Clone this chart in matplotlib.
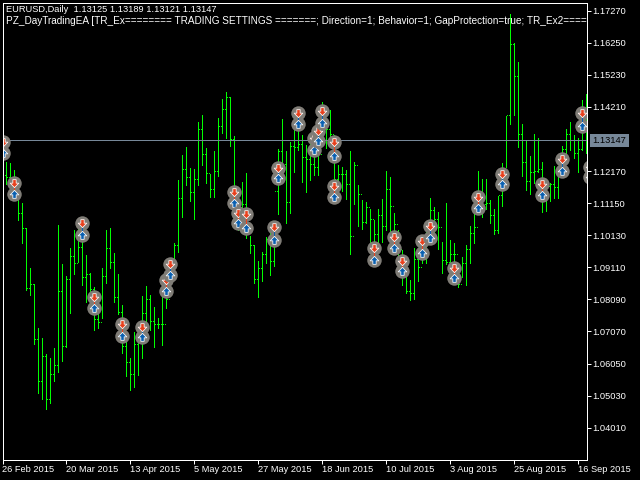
import matplotlib
matplotlib.use("Agg")
import matplotlib.pyplot as plt
from matplotlib.path import Path

# --- Data: EURUSD daily bars ---
highs = [1.13349, 1.12458, 1.12427, 1.12204, 1.11409, 1.11154, 1.10360, 1.09088, 1.08579, 1.07180,
         1.06862, 1.06353, 1.06226, 1.06544, 1.10455, 1.09215, 1.08833, 1.09724, 1.10296, 1.10614,
         1.10296, 1.09501, 1.08929, 1.08483, 1.07847, 1.09088, 1.10296, 1.10360, 1.09565, 1.08897,
         1.07911, 1.06798, 1.06226, 1.07052, 1.07116, 1.08197, 1.08515, 1.08229, 1.07847, 1.07498,
         1.08165, 1.08229, 1.09342, 1.09883, 1.11886, 1.12681, 1.12935, 1.12268, 1.12236, 1.13730,
         1.13953, 1.12904, 1.12077, 1.12808, 1.13858, 1.14462, 1.14684, 1.14525, 1.13285, 1.11027,
         1.11822, 1.12109, 1.10105, 1.09819, 1.09310, 1.09596, 1.10073, 1.10455, 1.10391, 1.12872,
         1.13826, 1.12808, 1.13094, 1.13540, 1.13476, 1.13317, 1.12999, 1.13381, 1.12840, 1.12935,
         1.14366, 1.13571, 1.14112, 1.13317, 1.12363, 1.12299, 1.12204, 1.12808, 1.12458, 1.11727,
         1.11250, 1.11186, 1.10964, 1.10614, 1.10964, 1.11282, 1.12172, 1.11981, 1.10837, 1.10296,
         1.09660, 1.09183, 1.08706, 1.09724, 1.09406, 1.10073, 1.10296, 1.11314, 1.11027, 1.10868,
         1.09914, 1.11154, 1.09978, 1.09883, 1.09247, 1.09437, 1.09819, 1.10423, 1.10837, 1.12172,
         1.11918, 1.11918, 1.11250, 1.10964, 1.11377, 1.12427, 1.13921, 1.17165, 1.16243, 1.15638,
         1.13667, 1.13126, 1.12649, 1.13349, 1.13222, 1.12458, 1.11886, 1.11791, 1.12331, 1.12045,
         1.12967, 1.13508, 1.13730, 1.13317, 1.13222, 1.14430, 1.14621]
lows = [1.11950, 1.11759, 1.11568, 1.11409, 1.10614, 1.09883, 1.08388, 1.08229, 1.06671, 1.05113,
        1.04922, 1.04604, 1.04795, 1.05494, 1.05780, 1.06130, 1.06575, 1.07657, 1.08897, 1.09278,
        1.08547, 1.08006, 1.07975, 1.07116, 1.07180, 1.07498, 1.08611, 1.09088, 1.08006, 1.07625,
        1.06385, 1.05653, 1.05208, 1.05303, 1.05685, 1.06226, 1.07116, 1.07116, 1.06575, 1.07180,
        1.06639, 1.07816, 1.08388, 1.09024, 1.09596, 1.10709, 1.11727, 1.11218, 1.10646, 1.11727,
        1.12363, 1.11791, 1.11345, 1.11345, 1.12013, 1.13381, 1.13222, 1.12967, 1.11409, 1.10296,
        1.10773, 1.10042, 1.09565, 1.08611, 1.08165, 1.08674, 1.09247, 1.08865, 1.09151, 1.10805,
        1.12140, 1.10519, 1.10837, 1.12140, 1.12840, 1.11822, 1.11504, 1.11886, 1.12045, 1.12045,
        1.13476, 1.12904, 1.12999, 1.11727, 1.11568, 1.11536, 1.11282, 1.09533, 1.11123, 1.10423,
        1.10328, 1.10519, 1.09883, 1.09819, 1.09755, 1.09914, 1.10296, 1.10201, 1.10296, 1.09406,
        1.08547, 1.08293, 1.08070, 1.08102, 1.08674, 1.09247, 1.09247, 1.10455, 1.10201, 1.09692,
        1.08929, 1.09215, 1.09119, 1.09024, 1.08483, 1.08801, 1.08547, 1.09247, 1.09883, 1.11027,
        1.10709, 1.10964, 1.10519, 1.10169, 1.10201, 1.11059, 1.12299, 1.13667, 1.13953, 1.12935,
        1.12013, 1.11568, 1.11441, 1.11791, 1.12140, 1.10868, 1.10900, 1.11218, 1.11314, 1.11314,
        1.11981, 1.12617, 1.12840, 1.12586, 1.12140, 1.12840, 1.12745]
closes = [1.12013, 1.11950, 1.11727, 1.11250, 1.10805, 1.10328, 1.08420, 1.08547, 1.06798, 1.05462,
          1.06257, 1.04890, 1.05685, 1.05971, 1.08324, 1.06575, 1.08706, 1.09437, 1.09215, 1.09724,
          1.08770, 1.08865, 1.08388, 1.07434, 1.07339, 1.08801, 1.09692, 1.09247, 1.08134, 1.07657,
          1.06575, 1.06067, 1.05685, 1.06639, 1.06862, 1.07625, 1.08070, 1.07370, 1.07275, 1.07275,
          1.07275, 1.08070, 1.08865, 1.09787, 1.11282, 1.12204, 1.11950, 1.11473, 1.11886, 1.13476,
          1.12681, 1.12077, 1.11568, 1.12140, 1.13571, 1.14112, 1.14494, 1.13158, 1.11568, 1.10550,
          1.11091, 1.10709, 1.09787, 1.08706, 1.09056, 1.09501, 1.09978, 1.09278, 1.11504, 1.12776,
          1.12363, 1.11154, 1.12935, 1.12904, 1.12999, 1.12586, 1.12522, 1.12363, 1.12268, 1.12681,
          1.13953, 1.13476, 1.13317, 1.11886, 1.12045, 1.12045, 1.11727, 1.10073, 1.12331, 1.11409,
          1.10519, 1.10996, 1.10614, 1.10137, 1.10741, 1.10391, 1.11568, 1.11027, 1.10455, 1.09660,
          1.09024, 1.08324, 1.08261, 1.09342, 1.09088, 1.09660, 1.10137, 1.10900, 1.10614, 1.10360,
          1.09310, 1.09247, 1.09501, 1.09501, 1.08547, 1.09215, 1.09660, 1.10169, 1.10360, 1.11409,
          1.11091, 1.11123, 1.10741, 1.10264, 1.11377, 1.11886, 1.13921, 1.16179, 1.15161, 1.13317,
          1.12427, 1.11822, 1.12109, 1.12140, 1.12204, 1.11409, 1.11663, 1.11727, 1.11632, 1.12268,
          1.12840, 1.13317, 1.13126, 1.12713, 1.12840, 1.13635, 1.13126]

# Trade signals: bar index, sell arrow price, buy arrow price, which colour joins them
signal_bars = [0, 3, 20, 23, 30, 35, 41, 42, 58, 59, 61, 68, 69, 74, 78, 79,
               80, 83, 83, 93, 98, 100, 105, 107, 113, 119, 125, 135, 140, 145, 147]
signal_sell = [1.13094, 1.11791, 1.10519, 1.08165, 1.07307, 1.07211, 1.08706, 1.09215,
               1.11504, 1.10837, 1.10805, 1.10391, 1.12268, 1.14017, 1.13222, 1.13444,
               1.14080, 1.13094, 1.11695, 1.09724, 1.10073, 1.09310, 1.09946, 1.10423,
               1.09088, 1.11345, 1.12077, 1.11759, 1.12554, 1.14017, 1.12299]
signal_buy = [1.12745, 1.11441, 1.10137, 1.07816, 1.06925, 1.06893, 1.08356, 1.08865,
              1.11154, 1.10519, 1.10360, 1.09978, 1.11950, 1.13667, 1.12840, 1.13126,
              1.13699, 1.12649, 1.11345, 1.09342, 1.09724, 1.08992, 1.09565, 1.10042,
              1.08770, 1.10996, 1.11759, 1.11409, 1.12172, 1.13603, 1.11981]
signal_link = ['r', 'r', 'b', 'r', 'r', 'b', 'r', 'b', 'r', 'r', 'r', 'b', 'b', 'b', 'b', 'b',
               'b', 'r', 'r', 'r', 'r', 'r', 'r', 'b', 'r', 'r', 'b', 'r', 'b', 'b', 'b']

y_ticks = [1.17270, 1.16250, 1.15230, 1.14210, 1.13147, 1.12170, 1.11150, 1.10130,
           1.09110, 1.08090, 1.07070, 1.06050, 1.05030, 1.04010]
date_ticks = [0, 16, 32, 48, 64, 80, 96, 112, 128, 144]
date_labels = ['26 Feb 2015', '20 Mar 2015', '13 Apr 2015', '5 May 2015', '27 May 2015',
               '18 Jun 2015', '10 Jul 2015', '3 Aug 2015', '25 Aug 2015', '16 Sep 2015']
last_close = 1.13147

# --- Styling ---
plt.rcParams['font.family'] = ['Liberation Sans', 'DejaVu Sans']
FONT = 6.7
PX = 72 / 100
RED = '#e8401c'
BLUE = '#0a60b0'
GREY = '#7f7c76'
SLATE = '#778899'

fig = plt.figure(figsize=(6.4, 4.8), dpi=100, facecolor='black')
ax = fig.add_axes([2.5 / 640, 20.5 / 480, 584.5 / 640, 457 / 480], facecolor='black')
ax.set_xlim(0.05, 146.2)
ax.set_ylim(1.02998, 1.17530)

# --- Bars: one pixel tick for the close and for the next open ---
bars = list(range(len(highs)))
ax.vlines(bars, lows, highs, color='#00ff00', lw=PX, antialiased=False, zorder=2)
ax.plot([b + 0.25 for b in bars], closes, ',', color='#00ff00', zorder=2)
ax.plot([b + 0.75 for b in bars], closes, ',', color='#00ff00', zorder=2)

ax.axhline(last_close, color=SLATE, lw=PX, zorder=3)

# --- Signals ---
arrow_down = Path([(-0.24, 0.55), (0.24, 0.55), (0.24, 0.05), (0.62, 0.05), (0, -0.6),
                   (-0.62, 0.05), (-0.24, 0.05), (-0.24, 0.55)], closed=True)
arrow_up = Path([(-0.24, -0.55), (0.24, -0.55), (0.24, -0.05), (0.62, -0.05), (0, 0.6),
                 (-0.62, -0.05), (-0.24, -0.05), (-0.24, -0.55)], closed=True)

z = 4
for bar, sell, buy, link in zip(signal_bars, signal_sell, signal_buy, signal_link):
    ax.plot([bar, bar], [sell, buy], 'o', color=GREY, ms=10.4, mew=0, zorder=z)
    ax.plot([bar, bar], [sell, buy], color=RED if link == 'r' else BLUE, lw=PX, zorder=z + 0.1)
    ax.plot(bar, sell, marker=arrow_down, color=RED, mec='white', mew=0.55, ms=6.2, ls='none', zorder=z + 0.2)
    ax.plot(bar, buy, marker=arrow_up, color=BLUE, mec='white', mew=0.55, ms=6.2, ls='none', zorder=z + 0.2)
    z += 1

# --- Axes ---
for side in ['left', 'top', 'right', 'bottom']:
    ax.spines[side].set_color('white')
    ax.spines[side].set_linewidth(PX)
ax.spines['left'].set_zorder(100)
ax.spines['right'].set_zorder(100)

ax.yaxis.tick_right()
ax.set_yticks(y_ticks[:4] + y_ticks[5:])
ax.set_yticklabels([f'{v:.5f}' for v in y_ticks[:4] + y_ticks[5:]], fontsize=FONT, color='white')
ax.tick_params(axis='y', colors='white', length=3, width=PX, pad=0.5)
ax.set_xticks(date_ticks)
ax.set_xticklabels(date_labels, fontsize=FONT, color='white', ha='left')
ax.tick_params(axis='x', colors='white', length=3.2, width=PX, pad=1)

ax.text(592.5 / 640, 1 - 140.5 / 480, f'{last_close:.5f}', transform=fig.transFigure,
        fontsize=FONT, color='black', va='center', ha='left',
        bbox=dict(boxstyle='square,pad=0.25', fc=SLATE, ec='none'))

ax.text(6 / 640, 1 - 9 / 480, 'EURUSD,Daily  1.13125 1.13189 1.13121 1.13147',
        transform=fig.transFigure, fontsize=FONT, color='white', va='center', ha='left', zorder=200)
ax.text(6 / 640, 1 - 20.5 / 480,
        'PZ_DayTradingEA [TR_Ex======== TRADING SETTINGS =======; Direction=1; Behavior=1; '
        'GapProtection=true; TR_Ex2==========',
        transform=fig.transFigure, fontsize=7.2, color='white', va='center', ha='left',
        clip_on=True, zorder=200)

fig.savefig('out.png', dpi=100, facecolor='black')
